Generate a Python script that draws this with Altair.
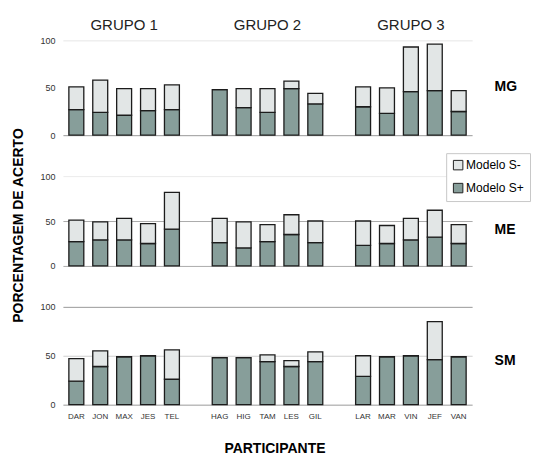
import altair as alt
import pandas as pd

# ---- data ----
grupo1 = ["DAR", "JON", "MAX", "JES", "TEL"]
grupo2 = ["HAG", "HIG", "TAM", "LES", "GIL"]
grupo3 = ["LAR", "MAR", "VIN", "JEF", "VAN"]
participantes = grupo1 + grupo2 + grupo3
x_domain = grupo1 + [" "] + grupo2 + ["  "] + grupo3
grupo_titulos = ["GRUPO 1", "GRUPO 2", "GRUPO 3"]
grupo_centro = ["MAX", "TAM", "VIN"]

series = ["Modelo S-", "Modelo S+"]
linhas = ["MG", "ME", "SM"]

# S+ portion and total (S+ plus S-) per participant
mg_splus = [27, 24, 21, 26, 27, 48, 29, 24, 49, 33, 30, 23, 46, 47, 25]
mg_total = [51, 58, 49, 49, 53, 48, 49, 49, 57, 44, 51, 50, 93, 96, 47]
me_splus = [27, 29, 29, 25, 41, 26, 20, 27, 35, 26, 23, 25, 29, 32, 25]
me_total = [51, 49, 53, 47, 82, 53, 49, 46, 57, 50, 50, 45, 53, 62, 46]
sm_splus = [24, 39, 49, 50, 26, 48, 48, 44, 39, 44, 29, 49, 50, 46, 49]
sm_total = [47, 55, 49, 50, 56, 48, 48, 51, 45, 54, 50, 49, 50, 85, 49]

FONT = "Liberation Sans"
C_SPLUS = "#879e9a"
C_SMINUS = "#e2e6e6"
STROKE = "#1c1c1c"

color_scale = alt.Scale(domain=series, range=[C_SMINUS, C_SPLUS])

label_expr = " : ".join(
    f"datum.value == '{c}' ? '{t}'" for c, t in zip(grupo_centro, grupo_titulos)
) + " : ''"


def make_row(name, splus, total, height, grid_color, grid_opacity, x_axis,
             y_title, title_y, show_legend):
    df = pd.DataFrame({"participante": participantes, "splus": splus, "total": total})
    base = alt.Chart(df).encode(
        x=alt.X("participante:N",
                scale=alt.Scale(domain=x_domain, paddingInner=0.375, paddingOuter=0.25),
                axis=x_axis)
    )
    yscale = alt.Scale(domain=[0, 100], nice=False)
    legend = alt.Legend(
        orient="none", legendX=384, legendY=113, title=None,
        symbolType="square", symbolSize=90, symbolStrokeColor="#222",
        symbolStrokeWidth=1, labelFontSize=12, labelFont=FONT,
        labelColor="black", rowPadding=9, padding=6, labelOffset=2,
        strokeColor="#c8c8c8", fillColor="white",
    ) if show_legend else None
    left_axis = dict(
        values=[0, 50, 100], ticks=False, domain=False, labelFontSize=9,
        labelColor="#333", labelFont=FONT, labelPadding=8, grid=True,
        gridColor=grid_color, gridOpacity=grid_opacity,
    )
    if y_title:
        left_axis.update(title=y_title, titleFontSize=14, titleFontWeight="bold",
                         titleFont=FONT, titleColor="black", titlePadding=14,
                         titleY=49)
    else:
        left_axis.update(title=None)
    lower = base.mark_bar(stroke=STROKE, strokeWidth=1.3).transform_calculate(
        serie="'Modelo S+'"
    ).encode(
        y=alt.Y("splus:Q", scale=yscale, axis=alt.Axis(**left_axis)),
        color=alt.Color("serie:N", scale=color_scale, legend=legend),
    )
    upper = base.mark_bar(stroke=STROKE, strokeWidth=1.3).transform_calculate(
        serie="'Modelo S-'"
    ).encode(
        y=alt.Y("splus:Q", scale=yscale, axis=alt.Axis(
            orient="right", labels=False, ticks=False, domain=False, grid=False,
            title=name, titleAngle=0, titleFontSize=14, titleFontWeight="bold",
            titleFont=FONT, titleColor="black", titleAlign="left",
            titleBaseline="middle", titleX=22, titleY=title_y)),
        y2="total:Q",
        color=alt.Color("serie:N", scale=color_scale, legend=legend),
    )
    return alt.layer(lower, upper).resolve_axis(y="independent").properties(
        width=410, height=height
    )


top_axis = alt.Axis(orient="top", labelExpr=label_expr, ticks=False, domain=False,
                    labelFontSize=15, labelFont=FONT, labelColor="#222",
                    labelPadding=8, labelAngle=0, title=None)
bottom_axis = alt.Axis(orient="bottom", ticks=False, domain=False, labelFontSize=8,
                       labelFont=FONT, labelColor="#333", labelPadding=8,
                       labelAngle=0, title="PARTICIPANTE", titleFontSize=14,
                       titleFontWeight="bold", titleFont=FONT, titleColor="black",
                       titlePadding=21, titleX=212)

top = make_row(
    linhas[0], mg_splus, mg_total, 95,
    {"condition": {"test": "datum.value === 100", "value": "#e6e6e6"}, "value": "#9a9a9a"},
    {"condition": {"test": "datum.value === 50", "value": 0}, "value": 1},
    top_axis, None, 46, True,
)
mid = make_row(
    linhas[1], me_splus, me_total, 90,
    {"condition": {"test": "datum.value === 100", "value": "#ececec"}, "value": "#ababab"},
    1, None, "PORCENTAGEM DE ACERTO", 54, True,
)
bot = make_row(
    linhas[2], sm_splus, sm_total, 98,
    {"condition": {"test": "datum.value === 50", "value": "#cfcfcf"}, "value": "#9a9a9a"},
    1, bottom_axis, None, 54, True,
)

chart = alt.vconcat(top, mid, bot, spacing=41, bounds="flush").properties(
    padding={"left": 3, "top": 9, "right": 0, "bottom": 0}
).configure_view(stroke=None)

chart.save("out.html", embed_options={"renderer": "svg", "actions": False})
